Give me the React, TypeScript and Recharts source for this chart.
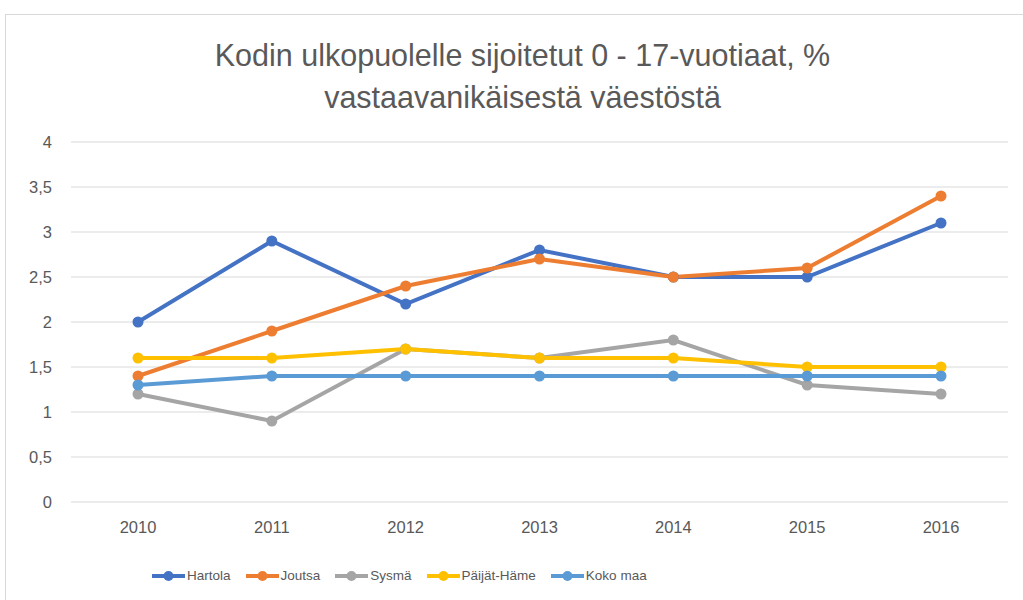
import React from 'react';
import { LineChart, Line, XAxis, YAxis, CartesianGrid } from 'recharts';

const YEARS = ['2010', '2011', '2012', '2013', '2014', '2015', '2016'];
const HARTOLA = [2.0, 2.9, 2.2, 2.8, 2.5, 2.5, 3.1];
const JOUTSA = [1.4, 1.9, 2.4, 2.7, 2.5, 2.6, 3.4];
const SYSMA = [1.2, 0.9, 1.7, 1.6, 1.8, 1.3, 1.2];
const PAIJAT_HAME = [1.6, 1.6, 1.7, 1.6, 1.6, 1.5, 1.5];
const KOKO_MAA = [1.3, 1.4, 1.4, 1.4, 1.4, 1.4, 1.4];
const Y_TICKS = [0, 0.5, 1, 1.5, 2, 2.5, 3, 3.5, 4];

const SERIES = [
  { key: 'hartola', name: 'Hartola', values: HARTOLA, color: '#4472C4' },
  { key: 'joutsa', name: 'Joutsa', values: JOUTSA, color: '#ED7D31' },
  { key: 'sysma', name: 'Sysmä', values: SYSMA, color: '#A5A5A5' },
  { key: 'paijat', name: 'Päijät-Häme', values: PAIJAT_HAME, color: '#FFC000' },
  { key: 'koko', name: 'Koko maa', values: KOKO_MAA, color: '#5B9BD5' },
];

const FONT = '"Liberation Sans", Arial, sans-serif';
const TEXT = '#595959';

const data = YEARS.map((year, i) => {
  const row: Record<string, string | number> = { year };
  SERIES.forEach((s) => { row[s.key] = s.values[i]; });
  return row;
});

const fmt = (v: number) => String(v).replace('.', ',');

export default function App() {
  return (
    <div style={{ position: 'absolute', left: 0, top: 0, width: 1023, height: 600, overflow: 'hidden', background: '#fff', fontFamily: FONT }}>
      <div style={{ position: 'absolute', left: 5, top: 14, width: 1040, height: 620, border: '1px solid #d9d9d9', boxSizing: 'border-box' }} />
      <div style={{ position: 'absolute', left: 0, top: 34, width: 1045, textAlign: 'center', color: TEXT, fontSize: 30.5, lineHeight: '42px' }}>
        Kodin ulkopuolelle sijoitetut 0 - 17-vuotiaat, %<br />vastaavanikäisestä väestöstä
      </div>
      <div style={{ position: 'absolute', left: 0, top: 0 }}>
        <LineChart width={1023} height={600} data={data} margin={{ top: 142, right: 15, bottom: 68, left: 0 }}>
          <CartesianGrid vertical={false} stroke="#d9d9d9" strokeWidth={1} />
          <XAxis
            dataKey="year"
            height={30}
            axisLine={false}
            tickLine={false}
            tickMargin={13}
            padding={{ left: 67, right: 67 }}
            tick={{ fill: TEXT, fontSize: 16.5, fontFamily: FONT }}
          />
          <YAxis
            width={71}
            domain={[0, 4]}
            ticks={Y_TICKS}
            axisLine={false}
            tickLine={false}
            tickMargin={13}
            tickFormatter={fmt}
            tick={{ fill: TEXT, fontSize: 16.5, fontFamily: FONT }}
          />
          {SERIES.map((s) => (
            <Line
              key={s.key}
              type="linear"
              dataKey={s.key}
              name={s.name}
              stroke={s.color}
              strokeWidth={4}
              dot={{ r: 5.5, fill: s.color, stroke: 'none' }}
              isAnimationActive={false}
            />
          ))}
        </LineChart>
      </div>
      <div style={{ position: 'absolute', left: 152, top: 566, display: 'flex', alignItems: 'center', gap: 15, color: TEXT, fontSize: 13.5, lineHeight: '20px' }}>
        {SERIES.map((s) => (
          <div key={s.key} style={{ display: 'flex', alignItems: 'center' }}>
            <svg width={33} height={12} style={{ marginRight: 2 }}>
              <line x1={0} y1={6} x2={33} y2={6} stroke={s.color} strokeWidth={4} />
              <circle cx={16.5} cy={6} r={5} fill={s.color} />
            </svg>
            <span>{s.name}</span>
          </div>
        ))}
      </div>
    </div>
  );
}
